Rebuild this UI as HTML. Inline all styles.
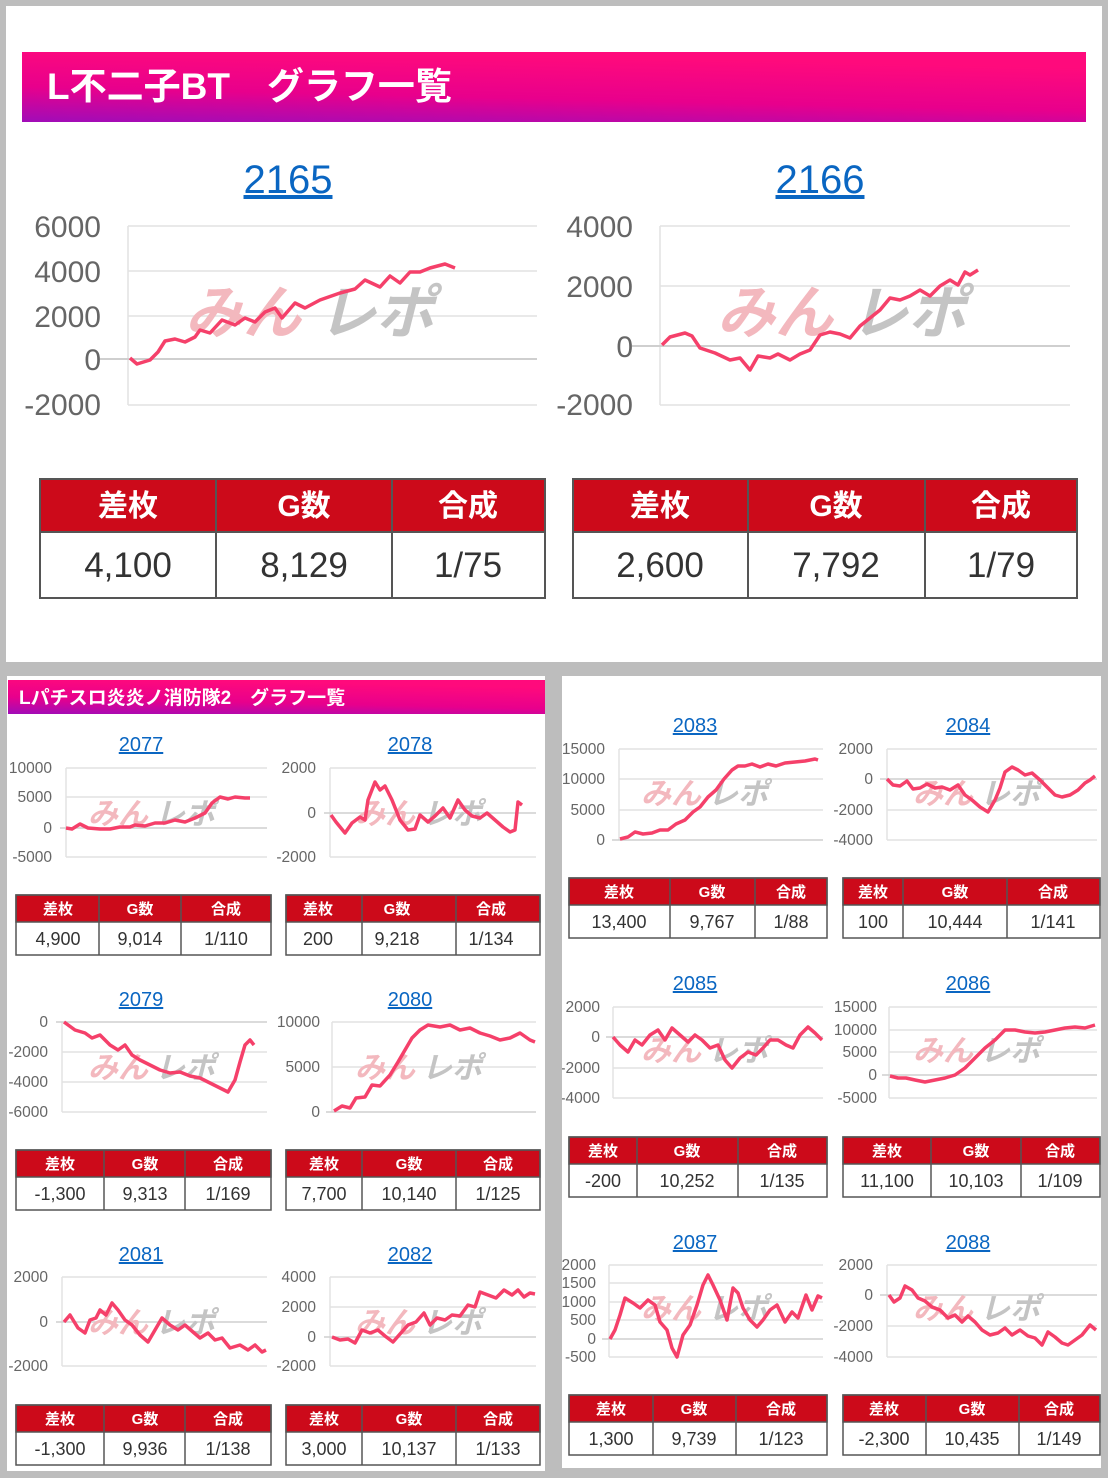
<!DOCTYPE html>
<html><head><meta charset="utf-8"><style>
html,body{margin:0;padding:0;background:#bdbdbd}
svg{display:block}
text{font-family:"Liberation Sans","Noto Sans CJK JP",sans-serif}
.t{fill:#0a66c2;text-decoration:underline;text-anchor:middle}
.l{fill:#666;text-anchor:end}
.g{stroke:#e2e2e2;stroke-width:1.5}
.ln{fill:none;stroke:#f5406a;stroke-width:3.5;stroke-linejoin:round}
.hd{fill:#fff;font-weight:bold;text-anchor:middle}
.dv{fill:#333;text-anchor:middle}
.wm1{fill:#f3b8be;font-weight:bold;font-style:italic}
.wm2{fill:#c4c4c4;font-weight:bold;font-style:italic}
</style></head><body>
<svg width="1108" height="1478" viewBox="0 0 1108 1478" xmlns="http://www.w3.org/2000/svg">
<defs>
<linearGradient id="gr" x1="0" y1="1" x2="0.35" y2="0">
<stop offset="0" stop-color="#a00cb8"/><stop offset="0.45" stop-color="#e8008c"/><stop offset="1" stop-color="#ff0a7c"/>
</linearGradient>
<clipPath id="cr"><rect x="562" y="676" width="539" height="792"/></clipPath>
</defs>
<rect width="1108" height="1478" fill="#bdbdbd"/>
<rect x="6" y="6" width="1096" height="656" fill="#fff"/>
<rect x="7" y="676" width="538" height="795" fill="#fff"/>
<rect x="562" y="676" width="539" height="792" fill="#fff"/>

<!-- top header -->
<rect x="22" y="52" width="1064" height="70" fill="url(#gr)"/>
<text x="47" y="99" fill="#fff" font-size="37" font-weight="bold">L不二子BT　グラフ一覧</text>

<!-- chart 2165 -->
<text class="t" x="288" y="193" font-size="40">2165</text>
<g class="g"><line x1="128" y1="226" x2="537" y2="226"/><line x1="128" y1="271" x2="537" y2="271"/><line x1="128" y1="316" x2="537" y2="316"/><line x1="128" y1="405" x2="537" y2="405"/><line x1="128" y1="226" x2="128" y2="405"/></g>
<line x1="100" y1="359" x2="537" y2="359" stroke="#cfcfcf" stroke-width="2"/>
<g class="l" font-size="30"><text x="101" y="237">6000</text><text x="101" y="282">4000</text><text x="101" y="327">2000</text><text x="101" y="370">0</text><text x="101" y="415">-2000</text></g>
<text x="185" y="333" font-size="58" class="wm1">みん</text><text x="318" y="333" font-size="58" class="wm2">レポ</text>
<polyline class="ln" stroke-width="5" points="130,358 137,364 150,360 158,352 165,341 175,339 185,342 195,337 200,330 210,333 222,320 235,325 245,318 255,322 265,312 275,308 282,318 295,303 305,308 320,300 340,293 355,289 365,280 380,287 390,276 400,283 410,272 420,272 430,268 445,264 455,268"/>

<!-- chart 2166 -->
<text class="t" x="820" y="193" font-size="40">2166</text>
<g class="g"><line x1="660" y1="226" x2="1070" y2="226"/><line x1="660" y1="286" x2="1070" y2="286"/><line x1="660" y1="405" x2="1070" y2="405"/><line x1="660" y1="226" x2="660" y2="405"/></g>
<line x1="632" y1="346" x2="1070" y2="346" stroke="#cfcfcf" stroke-width="2"/>
<g class="l" font-size="30"><text x="633" y="237">4000</text><text x="633" y="297">2000</text><text x="633" y="357">0</text><text x="633" y="415">-2000</text></g>
<text x="717" y="333" font-size="58" class="wm1">みん</text><text x="850" y="333" font-size="58" class="wm2">レポ</text>
<polyline class="ln" stroke-width="5" points="662,345 670,337 685,333 692,336 700,348 715,353 730,360 740,358 750,370 758,356 770,358 778,354 790,360 800,354 810,350 820,335 830,332 840,334 850,338 860,326 870,318 880,310 890,298 900,300 910,296 920,290 930,296 940,286 950,280 958,285 965,272 970,275 978,270"/>

<!-- top tables -->
<g>
<rect x="40" y="479" width="505" height="53" fill="#cc0a1a"/>
<rect x="40" y="479" width="505" height="119" fill="none" stroke="#555" stroke-width="2"/>
<line x1="40" y1="532" x2="545" y2="532" stroke="#555" stroke-width="2"/>
<line x1="216" y1="479" x2="216" y2="598" stroke="#555" stroke-width="2"/><line x1="392" y1="479" x2="392" y2="598" stroke="#555" stroke-width="2"/>
<g class="hd" font-size="30"><text x="128" y="516">差枚</text><text x="304" y="516">G数</text><text x="468" y="516">合成</text></g>
<g class="dv" font-size="35"><text x="128" y="577">4,100</text><text x="304" y="577">8,129</text><text x="468" y="577">1/75</text></g>
</g>
<g>
<rect x="573" y="479" width="504" height="53" fill="#cc0a1a"/>
<rect x="573" y="479" width="504" height="119" fill="none" stroke="#555" stroke-width="2"/>
<line x1="573" y1="532" x2="1077" y2="532" stroke="#555" stroke-width="2"/>
<line x1="748" y1="479" x2="748" y2="598" stroke="#555" stroke-width="2"/><line x1="925" y1="479" x2="925" y2="598" stroke="#555" stroke-width="2"/>
<g class="hd" font-size="30"><text x="660" y="516">差枚</text><text x="836" y="516">G数</text><text x="1001" y="516">合成</text></g>
<g class="dv" font-size="35"><text x="660" y="577">2,600</text><text x="836" y="577">7,792</text><text x="1001" y="577">1/79</text></g>
</g>

<!-- bottom-left header -->
<rect x="8" y="680" width="537" height="34" fill="url(#gr)"/>
<text x="19" y="704" fill="#fff" font-size="19" font-weight="bold">Lパチスロ炎炎ノ消防隊2　グラフ一覧</text>

<!-- LEFT PANEL CHARTS -->
<!-- 2077 -->
<text class="t" x="141" y="751" font-size="20">2077</text>
<g class="g"><line x1="66" y1="768" x2="267" y2="768"/><line x1="66" y1="797" x2="267" y2="797"/><line x1="66" y1="857" x2="267" y2="857"/><line x1="66" y1="768" x2="66" y2="857"/></g>
<line x1="60" y1="828" x2="267" y2="828" stroke="#cfcfcf" stroke-width="1.5"/>
<g class="l" font-size="15.5"><text x="52" y="773">10000</text><text x="52" y="802">5000</text><text x="52" y="833">0</text><text x="52" y="862">-5000</text></g>
<text x="88" y="824" font-size="30" class="wm1">みん</text><text x="155" y="824" font-size="30" class="wm2">レポ</text>
<polyline class="ln" points="66,828 72,829 80,824 88,828 100,829 110,829 120,827 130,827 135,825 145,826 155,823 165,823 175,820 185,822 195,818 205,813 212,803 220,797 228,799 235,797 245,798 250,798"/>
<!-- 2078 -->
<text class="t" x="410" y="751" font-size="20">2078</text>
<g class="g"><line x1="330" y1="768" x2="536" y2="768"/><line x1="330" y1="857" x2="536" y2="857"/><line x1="330" y1="768" x2="330" y2="857"/></g>
<line x1="324" y1="813" x2="536" y2="813" stroke="#cfcfcf" stroke-width="1.5"/>
<g class="l" font-size="15.5"><text x="316" y="773">2000</text><text x="316" y="818">0</text><text x="316" y="862">-2000</text></g>
<text x="355" y="824" font-size="30" class="wm1">みん</text><text x="422" y="824" font-size="30" class="wm2">レポ</text>
<polyline class="ln" points="331,815 336,822 345,833 352,823 360,817 365,820 368,800 375,782 380,790 385,786 392,800 400,820 408,830 415,829 420,815 428,822 435,816 443,808 450,818 458,800 465,810 472,816 480,818 487,813 495,820 503,827 510,832 515,830 518,802 522,805"/>

<!-- 2079 -->
<text class="t" x="141" y="1006" font-size="20">2079</text>
<g class="g"><line x1="62" y1="1052" x2="267" y2="1052"/><line x1="62" y1="1082" x2="267" y2="1082"/><line x1="62" y1="1112" x2="267" y2="1112"/><line x1="62" y1="1022" x2="62" y2="1112"/></g>
<line x1="56" y1="1022" x2="267" y2="1022" stroke="#cfcfcf" stroke-width="1.5"/>
<g class="l" font-size="15.5"><text x="48" y="1027">0</text><text x="48" y="1057">-2000</text><text x="48" y="1087">-4000</text><text x="48" y="1117">-6000</text></g>
<text x="88" y="1078" font-size="30" class="wm1">みん</text><text x="155" y="1078" font-size="30" class="wm2">レポ</text>
<polyline class="ln" points="64,1022 75,1030 85,1033 92,1038 100,1035 110,1045 118,1050 125,1045 132,1055 140,1060 150,1065 160,1070 170,1073 180,1072 190,1076 200,1078 210,1083 220,1088 228,1092 235,1080 240,1062 245,1045 250,1040 254,1045"/>
<!-- 2080 -->
<text class="t" x="410" y="1006" font-size="20">2080</text>
<g class="g"><line x1="332" y1="1022" x2="536" y2="1022"/><line x1="332" y1="1067" x2="536" y2="1067"/><line x1="332" y1="1022" x2="332" y2="1112"/></g>
<line x1="326" y1="1112" x2="536" y2="1112" stroke="#cfcfcf" stroke-width="1.5"/>
<g class="l" font-size="15.5"><text x="320" y="1027">10000</text><text x="320" y="1072">5000</text><text x="320" y="1117">0</text></g>
<text x="355" y="1078" font-size="30" class="wm1">みん</text><text x="422" y="1078" font-size="30" class="wm2">レポ</text>
<polyline class="ln" points="334,1111 342,1106 350,1108 356,1098 365,1097 372,1085 380,1086 390,1075 398,1062 405,1050 412,1038 420,1030 428,1025 440,1027 450,1025 460,1030 470,1028 480,1033 490,1036 500,1040 510,1038 520,1033 530,1040 535,1042"/>

<!-- 2081 -->
<text class="t" x="141" y="1261" font-size="20">2081</text>
<g class="g"><line x1="62" y1="1277" x2="267" y2="1277"/><line x1="62" y1="1366" x2="267" y2="1366"/><line x1="62" y1="1277" x2="62" y2="1366"/></g>
<line x1="56" y1="1322" x2="267" y2="1322" stroke="#cfcfcf" stroke-width="1.5"/>
<g class="l" font-size="15.5"><text x="48" y="1282">2000</text><text x="48" y="1327">0</text><text x="48" y="1371">-2000</text></g>
<text x="88" y="1333" font-size="30" class="wm1">みん</text><text x="155" y="1333" font-size="30" class="wm2">レポ</text>
<polyline class="ln" points="64,1322 70,1315 78,1328 85,1333 90,1320 96,1318 100,1310 106,1315 112,1303 118,1310 125,1320 132,1325 140,1335 148,1342 155,1330 162,1318 170,1325 178,1330 185,1325 193,1332 200,1338 208,1333 215,1340 222,1338 230,1348 240,1345 248,1350 255,1345 262,1352 266,1350"/>
<!-- 2082 -->
<text class="t" x="410" y="1261" font-size="20">2082</text>
<g class="g"><line x1="330" y1="1277" x2="536" y2="1277"/><line x1="330" y1="1307" x2="536" y2="1307"/><line x1="330" y1="1366" x2="536" y2="1366"/><line x1="330" y1="1277" x2="330" y2="1366"/></g>
<line x1="324" y1="1337" x2="536" y2="1337" stroke="#cfcfcf" stroke-width="1.5"/>
<g class="l" font-size="15.5"><text x="316" y="1282">4000</text><text x="316" y="1312">2000</text><text x="316" y="1342">0</text><text x="316" y="1371">-2000</text></g>
<text x="355" y="1333" font-size="30" class="wm1">みん</text><text x="422" y="1333" font-size="30" class="wm2">レポ</text>
<polyline class="ln" points="332,1337 340,1340 348,1339 355,1343 362,1330 370,1333 378,1330 385,1336 393,1342 400,1334 408,1325 416,1322 424,1313 430,1325 437,1318 445,1320 452,1315 460,1316 468,1305 475,1307 480,1292 488,1295 496,1298 504,1290 512,1295 518,1290 524,1297 530,1293 535,1294"/>

<!-- LEFT TABLES -->
<g stroke="#555" stroke-width="1.5">
<rect x="16" y="895" width="255" height="27" fill="#cc0a1a"/><rect x="286" y="895" width="254" height="27" fill="#cc0a1a"/>
<rect x="16" y="895" width="255" height="60" fill="none"/><rect x="286" y="895" width="254" height="60" fill="none"/>
<line x1="99" y1="895" x2="99" y2="955"/><line x1="181" y1="895" x2="181" y2="955"/><line x1="362" y1="895" x2="362" y2="955"/><line x1="456" y1="895" x2="456" y2="955"/>
<rect x="16" y="1150" width="255" height="27" fill="#cc0a1a"/><rect x="286" y="1150" width="254" height="27" fill="#cc0a1a"/>
<rect x="16" y="1150" width="255" height="60" fill="none"/><rect x="286" y="1150" width="254" height="60" fill="none"/>
<line x1="104" y1="1150" x2="104" y2="1210"/><line x1="185" y1="1150" x2="185" y2="1210"/><line x1="362" y1="1150" x2="362" y2="1210"/><line x1="456" y1="1150" x2="456" y2="1210"/>
<rect x="16" y="1405" width="255" height="27" fill="#cc0a1a"/><rect x="286" y="1405" width="254" height="27" fill="#cc0a1a"/>
<rect x="16" y="1405" width="255" height="60" fill="none"/><rect x="286" y="1405" width="254" height="60" fill="none"/>
<line x1="104" y1="1405" x2="104" y2="1465"/><line x1="185" y1="1405" x2="185" y2="1465"/><line x1="362" y1="1405" x2="362" y2="1465"/><line x1="456" y1="1405" x2="456" y2="1465"/>
</g>
<g class="hd" font-size="15">
<text x="58" y="914">差枚</text><text x="140" y="914">G数</text><text x="226" y="914">合成</text><text x="318" y="914">差枚</text><text x="397" y="914">G数</text><text x="491" y="914">合成</text>
<text x="60" y="1169">差枚</text><text x="145" y="1169">G数</text><text x="228" y="1169">合成</text><text x="324" y="1169">差枚</text><text x="409" y="1169">G数</text><text x="498" y="1169">合成</text>
<text x="60" y="1424">差枚</text><text x="145" y="1424">G数</text><text x="228" y="1424">合成</text><text x="324" y="1424">差枚</text><text x="409" y="1424">G数</text><text x="498" y="1424">合成</text>
</g>
<g class="dv" font-size="18">
<text x="58" y="945">4,900</text><text x="140" y="945">9,014</text><text x="226" y="945">1/110</text><text x="318" y="945">200</text><text x="397" y="945">9,218</text><text x="491" y="945">1/134</text>
<text x="60" y="1200">-1,300</text><text x="145" y="1200">9,313</text><text x="228" y="1200">1/169</text><text x="324" y="1200">7,700</text><text x="409" y="1200">10,140</text><text x="498" y="1200">1/125</text>
<text x="60" y="1455">-1,300</text><text x="145" y="1455">9,936</text><text x="228" y="1455">1/138</text><text x="324" y="1455">3,000</text><text x="409" y="1455">10,137</text><text x="498" y="1455">1/133</text>
</g>

<!-- RIGHT PANEL -->
<g clip-path="url(#cr)">
<!-- 2083 -->
<text class="t" x="695" y="732" font-size="20">2083</text>
<g class="g"><line x1="619" y1="749" x2="823" y2="749"/><line x1="619" y1="779" x2="823" y2="779"/><line x1="619" y1="810" x2="823" y2="810"/><line x1="619" y1="749" x2="619" y2="840"/></g>
<line x1="612" y1="840" x2="823" y2="840" stroke="#cfcfcf" stroke-width="1.5"/>
<g class="l" font-size="15.5"><text x="605" y="754">15000</text><text x="605" y="784">10000</text><text x="605" y="815">5000</text><text x="605" y="845">0</text></g>
<text x="641" y="804" font-size="30" class="wm1">みん</text><text x="708" y="804" font-size="30" class="wm2">レポ</text>
<polyline class="ln" points="620,839 628,837 635,832 643,834 652,833 660,830 668,830 676,824 685,820 693,812 700,807 708,797 716,790 724,779 732,770 738,766 745,766 752,764 760,767 768,764 776,766 785,763 795,762 805,761 815,759 818,760"/>
<!-- 2084 -->
<text class="t" x="968" y="732" font-size="20">2084</text>
<g class="g"><line x1="887" y1="749" x2="1097" y2="749"/><line x1="887" y1="810" x2="1097" y2="810"/><line x1="887" y1="840" x2="1097" y2="840"/><line x1="887" y1="749" x2="887" y2="840"/></g>
<line x1="880" y1="779" x2="1097" y2="779" stroke="#cfcfcf" stroke-width="1.5"/>
<g class="l" font-size="15.5"><text x="873" y="754">2000</text><text x="873" y="784">0</text><text x="873" y="815">-2000</text><text x="873" y="845">-4000</text></g>
<text x="913" y="804" font-size="30" class="wm1">みん</text><text x="980" y="804" font-size="30" class="wm2">レポ</text>
<polyline class="ln" points="887,779 893,785 900,786 907,781 913,789 920,788 927,784 935,788 942,787 950,790 958,785 965,795 972,800 980,807 988,812 995,800 1000,788 1005,772 1012,767 1018,770 1025,775 1032,773 1040,780 1048,788 1055,795 1062,797 1070,795 1078,790 1085,783 1090,780 1095,776"/>

<!-- 2085 -->
<text class="t" x="695" y="990" font-size="20">2085</text>
<g class="g"><line x1="613" y1="1007" x2="823" y2="1007"/><line x1="613" y1="1068" x2="823" y2="1068"/><line x1="613" y1="1098" x2="823" y2="1098"/><line x1="613" y1="1007" x2="613" y2="1098"/></g>
<line x1="606" y1="1037" x2="823" y2="1037" stroke="#cfcfcf" stroke-width="1.5"/>
<g class="l" font-size="15.5"><text x="600" y="1012">2000</text><text x="600" y="1042">0</text><text x="600" y="1073">-2000</text><text x="600" y="1103">-4000</text></g>
<text x="641" y="1061" font-size="30" class="wm1">みん</text><text x="708" y="1061" font-size="30" class="wm2">レポ</text>
<polyline class="ln" points="613,1037 620,1045 628,1052 635,1040 642,1045 650,1035 658,1030 665,1040 672,1028 680,1035 688,1042 695,1035 702,1040 710,1048 718,1045 725,1060 732,1068 740,1058 748,1052 756,1055 763,1048 770,1040 778,1040 786,1045 793,1048 800,1035 808,1027 815,1033 822,1040"/>
<!-- 2086 -->
<text class="t" x="968" y="990" font-size="20">2086</text>
<g class="g"><line x1="889" y1="1007" x2="1097" y2="1007"/><line x1="889" y1="1030" x2="1097" y2="1030"/><line x1="889" y1="1052" x2="1097" y2="1052"/><line x1="889" y1="1098" x2="1097" y2="1098"/><line x1="889" y1="1007" x2="889" y2="1098"/></g>
<line x1="882" y1="1075" x2="1097" y2="1075" stroke="#cfcfcf" stroke-width="1.5"/>
<g class="l" font-size="15.5"><text x="877" y="1012">15000</text><text x="877" y="1035">10000</text><text x="877" y="1057">5000</text><text x="877" y="1080">0</text><text x="877" y="1103">-5000</text></g>
<text x="913" y="1061" font-size="30" class="wm1">みん</text><text x="980" y="1061" font-size="30" class="wm2">レポ</text>
<polyline class="ln" points="890,1076 898,1078 906,1078 915,1080 925,1082 935,1080 945,1078 955,1075 965,1068 975,1058 985,1048 995,1040 1005,1030 1015,1030 1025,1032 1035,1033 1045,1032 1055,1030 1065,1028 1075,1027 1085,1028 1095,1025"/>

<!-- 2087 -->
<text class="t" x="695" y="1249" font-size="20">2087</text>
<g class="g"><line x1="609" y1="1265" x2="823" y2="1265"/><line x1="609" y1="1283" x2="823" y2="1283"/><line x1="609" y1="1302" x2="823" y2="1302"/><line x1="609" y1="1320" x2="823" y2="1320"/><line x1="609" y1="1357" x2="823" y2="1357"/><line x1="609" y1="1265" x2="609" y2="1357"/></g>
<line x1="602" y1="1339" x2="823" y2="1339" stroke="#cfcfcf" stroke-width="1.5"/>
<g class="l" font-size="15.5"><text x="596" y="1270">2000</text><text x="596" y="1288">1500</text><text x="596" y="1307">1000</text><text x="596" y="1325">500</text><text x="596" y="1344">0</text><text x="596" y="1362">-500</text></g>
<text x="641" y="1319" font-size="30" class="wm1">みん</text><text x="708" y="1319" font-size="30" class="wm2">レポ</text>
<polyline class="ln" points="610,1339 615,1330 620,1315 625,1298 633,1303 640,1308 648,1300 655,1305 660,1322 667,1330 672,1348 677,1357 683,1335 690,1325 697,1305 703,1285 708,1275 713,1285 720,1300 727,1320 733,1288 738,1293 743,1308 750,1320 757,1327 763,1320 770,1310 777,1305 785,1322 792,1312 798,1318 806,1295 812,1310 818,1296 822,1298"/>
<!-- 2088 -->
<text class="t" x="968" y="1249" font-size="20">2088</text>
<g class="g"><line x1="887" y1="1265" x2="1097" y2="1265"/><line x1="887" y1="1326" x2="1097" y2="1326"/><line x1="887" y1="1357" x2="1097" y2="1357"/><line x1="887" y1="1265" x2="887" y2="1357"/></g>
<line x1="880" y1="1295" x2="1097" y2="1295" stroke="#cfcfcf" stroke-width="1.5"/>
<g class="l" font-size="15.5"><text x="873" y="1270">2000</text><text x="873" y="1300">0</text><text x="873" y="1331">-2000</text><text x="873" y="1362">-4000</text></g>
<text x="913" y="1319" font-size="30" class="wm1">みん</text><text x="980" y="1319" font-size="30" class="wm2">レポ</text>
<polyline class="ln" points="889,1295 894,1302 900,1298 905,1286 912,1290 918,1298 925,1301 932,1307 940,1310 948,1318 955,1315 962,1322 968,1316 975,1322 982,1330 990,1335 998,1333 1005,1328 1012,1335 1020,1330 1028,1336 1035,1338 1042,1345 1048,1332 1055,1337 1062,1343 1068,1345 1075,1340 1082,1335 1090,1325 1096,1330"/>
</g>

<!-- RIGHT TABLES -->
<g stroke="#555" stroke-width="1.5">
<rect x="569" y="878" width="258" height="27" fill="#cc0a1a"/><rect x="843" y="878" width="257" height="27" fill="#cc0a1a"/>
<rect x="569" y="878" width="258" height="60" fill="none"/><rect x="843" y="878" width="257" height="60" fill="none"/>
<line x1="670" y1="878" x2="670" y2="938"/><line x1="755" y1="878" x2="755" y2="938"/><line x1="903" y1="878" x2="903" y2="938"/><line x1="1007" y1="878" x2="1007" y2="938"/>
<rect x="569" y="1137" width="258" height="27" fill="#cc0a1a"/><rect x="843" y="1137" width="257" height="27" fill="#cc0a1a"/>
<rect x="569" y="1137" width="258" height="60" fill="none"/><rect x="843" y="1137" width="257" height="60" fill="none"/>
<line x1="637" y1="1137" x2="637" y2="1197"/><line x1="738" y1="1137" x2="738" y2="1197"/><line x1="931" y1="1137" x2="931" y2="1197"/><line x1="1021" y1="1137" x2="1021" y2="1197"/>
<rect x="569" y="1395" width="258" height="27" fill="#cc0a1a"/><rect x="843" y="1395" width="257" height="27" fill="#cc0a1a"/>
<rect x="569" y="1395" width="258" height="60" fill="none"/><rect x="843" y="1395" width="257" height="60" fill="none"/>
<line x1="653" y1="1395" x2="653" y2="1455"/><line x1="736" y1="1395" x2="736" y2="1455"/><line x1="926" y1="1395" x2="926" y2="1455"/><line x1="1019" y1="1395" x2="1019" y2="1455"/>
</g>
<g class="hd" font-size="15">
<text x="619" y="897">差枚</text><text x="712" y="897">G数</text><text x="791" y="897">合成</text><text x="873" y="897">差枚</text><text x="955" y="897">G数</text><text x="1053" y="897">合成</text>
<text x="603" y="1156">差枚</text><text x="687" y="1156">G数</text><text x="782" y="1156">合成</text><text x="887" y="1156">差枚</text><text x="976" y="1156">G数</text><text x="1060" y="1156">合成</text>
<text x="611" y="1414">差枚</text><text x="694" y="1414">G数</text><text x="781" y="1414">合成</text><text x="884" y="1414">差枚</text><text x="972" y="1414">G数</text><text x="1059" y="1414">合成</text>
</g>
<g class="dv" font-size="18">
<text x="619" y="928">13,400</text><text x="712" y="928">9,767</text><text x="791" y="928">1/88</text><text x="873" y="928">100</text><text x="955" y="928">10,444</text><text x="1053" y="928">1/141</text>
<text x="603" y="1187">-200</text><text x="687" y="1187">10,252</text><text x="782" y="1187">1/135</text><text x="887" y="1187">11,100</text><text x="976" y="1187">10,103</text><text x="1060" y="1187">1/109</text>
<text x="611" y="1445">1,300</text><text x="694" y="1445">9,739</text><text x="781" y="1445">1/123</text><text x="884" y="1445">-2,300</text><text x="972" y="1445">10,435</text><text x="1059" y="1445">1/149</text>
</g>
</svg>
</body></html>
